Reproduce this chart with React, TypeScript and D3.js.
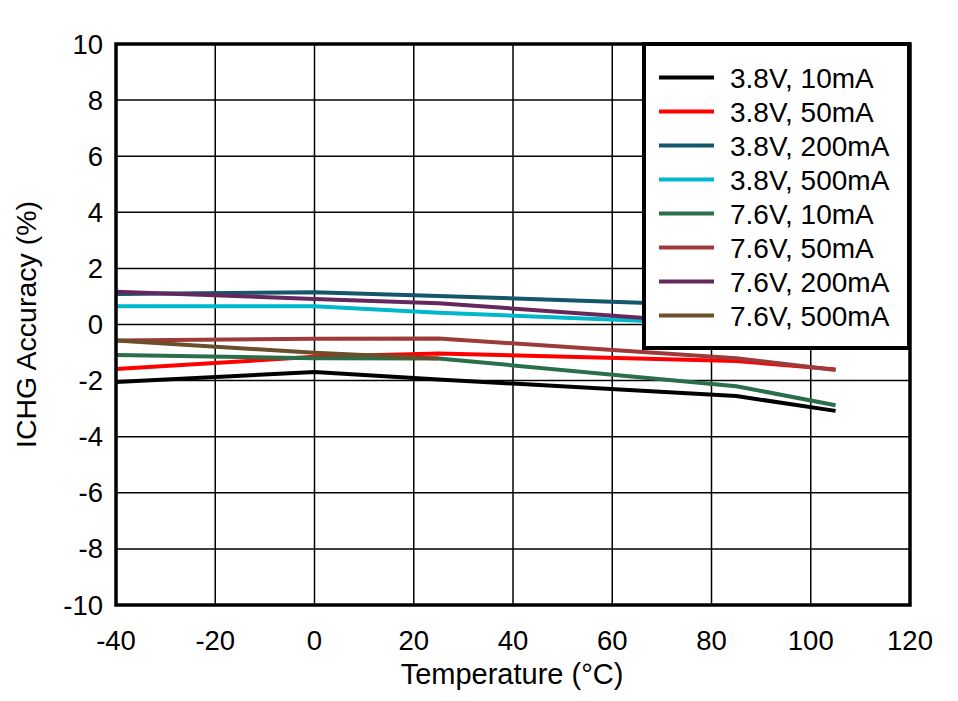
import React from "react";
import * as d3 from "d3";

const seriesNames = [
  "3.8V, 10mA",
  "3.8V, 50mA",
  "3.8V, 200mA",
  "3.8V, 500mA",
  "7.6V, 10mA",
  "7.6V, 50mA",
  "7.6V, 200mA",
  "7.6V, 500mA",
];
const seriesColors = [
  "#000000",
  "#ff0000",
  "#16566a",
  "#00b8cc",
  "#2a6e4a",
  "#9e3a3a",
  "#65285e",
  "#6b4f2a",
];
const temps = [-40, 0, 25, 85, 105];
const s38v10 = [-2.05, -1.69, -1.96, -2.55, -3.08];
const s38v50 = [-1.59, -1.15, -1.03, -1.3, -1.6];
const s38v200 = [1.09, 1.15, 1.02, 0.66, 0.5];
const s38v500 = [0.65, 0.65, 0.42, 0.0, -0.2];
const s76v10 = [-1.09, -1.2, -1.21, -2.2, -2.88];
const s76v50 = [-0.57, -0.51, -0.5, -1.2, -1.62];
const s76v200 = [1.17, 0.91, 0.76, 0.0, -0.3];
const temps500 = [-40, 0, 25];
const s76v500 = [-0.57, -1.01, -1.21];

const seriesX = [temps, temps, temps, temps, temps, temps, temps, temps500];
const seriesY = [s38v10, s38v50, s38v200, s38v500, s76v10, s76v50, s76v200, s76v500];

const xTicks = [-40, -20, 0, 20, 40, 60, 80, 100, 120];
const yTicks = [-10, -8, -6, -4, -2, 0, 2, 4, 6, 8, 10];

export default function App() {
  const left = 116, right = 910, top = 44, bottom = 605;
  const x = d3.scaleLinear().domain([-40, 120]).range([left, right]);
  const y = d3.scaleLinear().domain([-10, 10]).range([bottom, top]);
  const line = d3
    .line<[number, number]>()
    .x((d) => x(d[0]))
    .y((d) => y(d[1]));
  const font = "'Liberation Sans', Arial, sans-serif";

  const legX = 644, legY = 44, legW = 265, legH = 304;

  return (
    <div>
      <style>{`body{margin:0}`}</style>
      <svg width={958} height={701} style={{ display: "block", background: "#fff" }}>
        {/* grid */}
        {xTicks.map((t) => (
          <line key={"gx" + t} x1={x(t)} x2={x(t)} y1={top} y2={bottom} stroke="#000" strokeWidth={1.5} />
        ))}
        {yTicks.map((t) => (
          <line key={"gy" + t} x1={left} x2={right} y1={y(t)} y2={y(t)} stroke="#000" strokeWidth={1.5} />
        ))}
        {/* series */}
        {seriesY.map((vals, i) => (
          <path
            key={"s" + i}
            d={line(vals.map((v, j) => [seriesX[i][j], v] as [number, number])) || ""}
            fill="none"
            stroke={seriesColors[i]}
            strokeWidth={4}
            strokeLinejoin="round"
          />
        ))}
        {/* frame */}
        <rect x={left} y={top} width={right - left} height={bottom - top} fill="none" stroke="#000" strokeWidth={3.5} />
        {/* tick labels */}
        {yTicks.map((t) => (
          <text key={"yl" + t} x={103} y={y(t) + 9.5} textAnchor="end" fontFamily={font} fontSize={27.5} fill="#000">
            {t}
          </text>
        ))}
        {xTicks.map((t) => (
          <text key={"xl" + t} x={x(t)} y={650} textAnchor="middle" fontFamily={font} fontSize={27.5} fill="#000">
            {t}
          </text>
        ))}
        {/* axis titles */}
        <text x={512} y={684} textAnchor="middle" fontFamily={font} fontSize={29} fill="#000">
          Temperature (°C)
        </text>
        <text
          transform={`translate(36, ${(top + bottom) / 2}) rotate(-90)`}
          textAnchor="middle"
          fontFamily={font}
          fontSize={28.5}
          fill="#000"
        >
          ICHG Accuracy (%)
        </text>
        {/* legend */}
        <rect x={legX} y={legY} width={legW} height={legH} fill="#fff" stroke="#000" strokeWidth={4} />
        {seriesNames.map((name, i) => {
          const cy = 77.5 + i * 34;
          return (
            <g key={"lg" + i}>
              <line x1={659} x2={714} y1={cy} y2={cy} stroke={seriesColors[i]} strokeWidth={4} />
              <text x={730} y={cy + 10} fontFamily={font} fontSize={28} fill="#000">
                {name}
              </text>
            </g>
          );
        })}
      </svg>
    </div>
  );
}
